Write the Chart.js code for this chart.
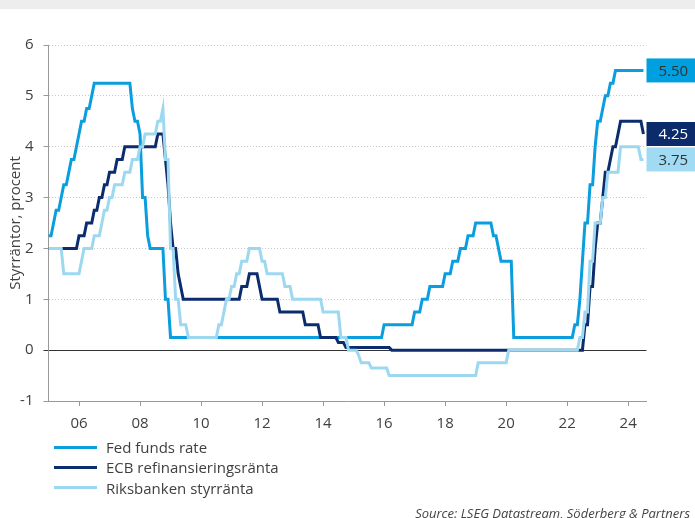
<!DOCTYPE html>
<html>
<head>
<meta charset="utf-8">
<script src="https://cdn.jsdelivr.net/npm/chart.js@4"></script>
<style>
  body { margin: 0; background: #fff; font-family: 'Open Sans', sans-serif; }
  #wrap { position: relative; width: 695px; height: 518px; overflow: hidden; }
  #topband { position: absolute; left: 0; top: 0; width: 695px; height: 9px; background: #eeedee; }
  #legend { position: absolute; left: 54px; top: 437px; font-size: 15px; color: #404040; }
  .row { display: flex; align-items: center; height: 20.3px; }
  .swatch { width: 43px; height: 3px; margin-right: 9px; }
  #source { position: absolute; right: 5px; top: 504px; font-size: 13px; font-style: italic; color: #444; white-space: nowrap; }
</style>
</head>
<body>
<div id="wrap">
  <canvas id="chart" width="695" height="518"></canvas>
  <div id="topband"></div>
  <div id="legend"></div>
  <div id="source">Source: LSEG Datastream, Söderberg &amp; Partners</div>
</div>
<script>
// Månadsslut, dec 2004 - jun 2024
const startYear = 2005;

const fedFunds = [
  2.25,
  2.25, 2.5, 2.75, 2.75, 3, 3.25, 3.25, 3.5, 3.75, 3.75, 4, 4.25,            // 2005
  4.5, 4.5, 4.75, 4.75, 5, 5.25, 5.25, 5.25, 5.25, 5.25, 5.25, 5.25,         // 2006
  5.25, 5.25, 5.25, 5.25, 5.25, 5.25, 5.25, 5.25, 4.75, 4.5, 4.5, 4.25,      // 2007
  3, 3, 2.25, 2, 2, 2, 2, 2, 2, 1, 1, 0.25,                                   // 2008
  0.25, 0.25, 0.25, 0.25, 0.25, 0.25, 0.25, 0.25, 0.25, 0.25, 0.25, 0.25,    // 2009
  0.25, 0.25, 0.25, 0.25, 0.25, 0.25, 0.25, 0.25, 0.25, 0.25, 0.25, 0.25,    // 2010
  0.25, 0.25, 0.25, 0.25, 0.25, 0.25, 0.25, 0.25, 0.25, 0.25, 0.25, 0.25,    // 2011
  0.25, 0.25, 0.25, 0.25, 0.25, 0.25, 0.25, 0.25, 0.25, 0.25, 0.25, 0.25,    // 2012
  0.25, 0.25, 0.25, 0.25, 0.25, 0.25, 0.25, 0.25, 0.25, 0.25, 0.25, 0.25,    // 2013
  0.25, 0.25, 0.25, 0.25, 0.25, 0.25, 0.25, 0.25, 0.25, 0.25, 0.25, 0.25,    // 2014
  0.25, 0.25, 0.25, 0.25, 0.25, 0.25, 0.25, 0.25, 0.25, 0.25, 0.25, 0.5,     // 2015
  0.5, 0.5, 0.5, 0.5, 0.5, 0.5, 0.5, 0.5, 0.5, 0.5, 0.5, 0.75,               // 2016
  0.75, 0.75, 1, 1, 1, 1.25, 1.25, 1.25, 1.25, 1.25, 1.25, 1.5,              // 2017
  1.5, 1.5, 1.75, 1.75, 1.75, 2, 2, 2, 2.25, 2.25, 2.25, 2.5,                // 2018
  2.5, 2.5, 2.5, 2.5, 2.5, 2.5, 2.25, 2.25, 2, 1.75, 1.75, 1.75,             // 2019
  1.75, 1.75, 0.25, 0.25, 0.25, 0.25, 0.25, 0.25, 0.25, 0.25, 0.25, 0.25,    // 2020
  0.25, 0.25, 0.25, 0.25, 0.25, 0.25, 0.25, 0.25, 0.25, 0.25, 0.25, 0.25,    // 2021
  0.25, 0.25, 0.5, 0.5, 1, 1.75, 2.5, 2.5, 3.25, 3.25, 4, 4.5,               // 2022
  4.5, 4.75, 5, 5, 5.25, 5.25, 5.5, 5.5, 5.5, 5.5, 5.5, 5.5,                 // 2023
  5.5, 5.5, 5.5, 5.5, 5.5, 5.5                                                // 2024
];

const ecbRefi = [
  2,
  2, 2, 2, 2, 2, 2, 2, 2, 2, 2, 2, 2.25,                                      // 2005
  2.25, 2.25, 2.5, 2.5, 2.5, 2.75, 2.75, 3, 3, 3.25, 3.25, 3.5,              // 2006
  3.5, 3.5, 3.75, 3.75, 3.75, 4, 4, 4, 4, 4, 4, 4,                            // 2007
  4, 4, 4, 4, 4, 4, 4.25, 4.25, 4.25, 3.75, 3.25, 2.5,                        // 2008
  2, 2, 1.5, 1.25, 1, 1, 1, 1, 1, 1, 1, 1,                                    // 2009
  1, 1, 1, 1, 1, 1, 1, 1, 1, 1, 1, 1,                                         // 2010
  1, 1, 1, 1.25, 1.25, 1.25, 1.5, 1.5, 1.5, 1.5, 1.25, 1,                     // 2011
  1, 1, 1, 1, 1, 1, 0.75, 0.75, 0.75, 0.75, 0.75, 0.75,                       // 2012
  0.75, 0.75, 0.75, 0.75, 0.5, 0.5, 0.5, 0.5, 0.5, 0.5, 0.25, 0.25,          // 2013
  0.25, 0.25, 0.25, 0.25, 0.25, 0.15, 0.15, 0.15, 0.05, 0.05, 0.05, 0.05,    // 2014
  0.05, 0.05, 0.05, 0.05, 0.05, 0.05, 0.05, 0.05, 0.05, 0.05, 0.05, 0.05,    // 2015
  0.05, 0.05, 0, 0, 0, 0, 0, 0, 0, 0, 0, 0,                                   // 2016
  0, 0, 0, 0, 0, 0, 0, 0, 0, 0, 0, 0,                                         // 2017
  0, 0, 0, 0, 0, 0, 0, 0, 0, 0, 0, 0,                                         // 2018
  0, 0, 0, 0, 0, 0, 0, 0, 0, 0, 0, 0,                                         // 2019
  0, 0, 0, 0, 0, 0, 0, 0, 0, 0, 0, 0,                                         // 2020
  0, 0, 0, 0, 0, 0, 0, 0, 0, 0, 0, 0,                                         // 2021
  0, 0, 0, 0, 0, 0, 0.5, 0.5, 1.25, 1.25, 2, 2.5,                             // 2022
  2.5, 3, 3.5, 3.5, 3.75, 4, 4, 4.25, 4.5, 4.5, 4.5, 4.5,                     // 2023
  4.5, 4.5, 4.5, 4.5, 4.5, 4.25                                               // 2024
];

const riksbanken = [
  2,
  2, 2, 2, 2, 2, 1.5, 1.5, 1.5, 1.5, 1.5, 1.5, 1.5,                           // 2005
  1.75, 2, 2, 2, 2, 2.25, 2.25, 2.25, 2.5, 2.75, 2.75, 3,                     // 2006
  3, 3.25, 3.25, 3.25, 3.25, 3.5, 3.5, 3.5, 3.75, 3.75, 3.75, 4,              // 2007
  4, 4.25, 4.25, 4.25, 4.25, 4.25, 4.5, 4.5, 4.75, 3.75, 3.75, 2,             // 2008
  2, 1, 1, 0.5, 0.5, 0.5, 0.25, 0.25, 0.25, 0.25, 0.25, 0.25,                 // 2009
  0.25, 0.25, 0.25, 0.25, 0.25, 0.25, 0.5, 0.5, 0.75, 1, 1, 1.25,             // 2010
  1.25, 1.5, 1.5, 1.75, 1.75, 1.75, 2, 2, 2, 2, 2, 1.75,                      // 2011
  1.75, 1.5, 1.5, 1.5, 1.5, 1.5, 1.5, 1.5, 1.25, 1.25, 1.25, 1,               // 2012
  1, 1, 1, 1, 1, 1, 1, 1, 1, 1, 1, 0.75,                                      // 2013
  0.75, 0.75, 0.75, 0.75, 0.75, 0.75, 0.25, 0.25, 0.25, 0, 0, 0,              // 2014
  0, -0.1, -0.25, -0.25, -0.25, -0.25, -0.35, -0.35, -0.35, -0.35, -0.35, -0.35, // 2015
  -0.35, -0.5, -0.5, -0.5, -0.5, -0.5, -0.5, -0.5, -0.5, -0.5, -0.5, -0.5,   // 2016
  -0.5, -0.5, -0.5, -0.5, -0.5, -0.5, -0.5, -0.5, -0.5, -0.5, -0.5, -0.5,    // 2017
  -0.5, -0.5, -0.5, -0.5, -0.5, -0.5, -0.5, -0.5, -0.5, -0.5, -0.5, -0.5,    // 2018
  -0.25, -0.25, -0.25, -0.25, -0.25, -0.25, -0.25, -0.25, -0.25, -0.25, -0.25, -0.25, // 2019
  0, 0, 0, 0, 0, 0, 0, 0, 0, 0, 0, 0,                                         // 2020
  0, 0, 0, 0, 0, 0, 0, 0, 0, 0, 0, 0,                                         // 2021
  0, 0, 0, 0, 0.25, 0.25, 0.75, 0.75, 1.75, 1.75, 2.5, 2.5,                   // 2022
  2.5, 3, 3, 3.5, 3.5, 3.5, 3.5, 3.5, 4, 4, 4, 4,                             // 2023
  4, 4, 4, 4, 3.75, 3.75                                                      // 2024
];

const tickYears = [2006, 2008, 2010, 2012, 2014, 2016, 2018, 2020, 2022, 2024];
const tickLabels = ["06", "08", "10", "12", "14", "16", "18", "20", "22", "24"];

const seriesNames = ["Fed funds rate", "ECB refinansieringsränta", "Riksbanken styrränta"];
const seriesColors = ["#0a9ede", "#0b2d6e", "#9dd8f1"];
const boxColors = ["#009fe0", "#0b2b6b", "#a0dbf3"];
const boxText = ["#333333", "#ffffff", "#333333"];

function toPoints(values) {
  return values.map((v, i) => ({ x: startYear + i / 12, y: v }));
}

// Etiketter med senaste värdet till höger
const endLabels = {
  id: "endLabels",
  afterDraw(chart) {
    const ctx = chart.ctx;
    const yScale = chart.scales.y;
    const left = chart.chartArea.right;
    ctx.save();
    ctx.font = "15px 'Open Sans', sans-serif";
    ctx.textBaseline = "middle";
    chart.data.datasets.forEach((ds, i) => {
      const last = ds.data[ds.data.length - 1].y;
      const y = yScale.getPixelForValue(last);
      ctx.fillStyle = boxColors[i];
      ctx.fillRect(left, y - 12, 60, 24);
      ctx.fillStyle = boxText[i];
      ctx.fillText(last.toFixed(2), left + 12, y + 1);
    });
    ctx.restore();
  }
};

Chart.defaults.font.family = "'Open Sans', sans-serif";
Chart.defaults.color = "#404040";

const ctx = document.getElementById("chart").getContext("2d");
new Chart(ctx, {
  type: "line",
  data: {
    datasets: [fedFunds, ecbRefi, riksbanken].map((vals, i) => ({
      label: seriesNames[i],
      data: toPoints(vals),
      borderColor: seriesColors[i],
      borderWidth: 3,
      pointRadius: 0,
      tension: 0,
      order: 3 - i
    }))
  },
  options: {
    responsive: false,
    animation: false,
    layout: { padding: { left: 0, top: 45, right: 48.5, bottom: 77 } },
    plugins: { legend: { display: false }, tooltip: { enabled: false } },
    scales: {
      x: {
        type: "linear",
        min: 2005,
        max: 2024.6,
        afterFit: s => { s.height = 40; },
        afterBuildTicks: s => { s.ticks = tickYears.map(v => ({ value: v })); },
        ticks: {
          autoSkip: false,
          maxRotation: 0,
          padding: 9,
          font: { size: 15 },
          callback: v => tickLabels[tickYears.indexOf(v)]
        },
        grid: { drawOnChartArea: false, drawTicks: true, tickLength: 5, tickColor: "#999" },
        border: { color: "#999", width: 1 }
      },
      y: {
        min: -1,
        max: 6,
        afterFit: s => { s.width = 48.5; },
        ticks: { stepSize: 1, padding: 10, font: { size: 15 } },
        title: {
          display: true,
          text: "Styrräntor, procent",
          font: { size: 15 },
          color: "#404040",
          padding: { top: 7, bottom: 0 }
        },
        grid: {
          color: c => (c.tick && c.tick.value === 0 ? "#333" : "#c8c8c8"),
          tickLength: 5,
          tickColor: c => (c.tick && c.tick.value === 0 ? "#333" : "#999"),
          tickBorderDash: []
        },
        border: {
          color: "#999",
          width: 1,
          dash: c => (c.tick && c.tick.value === 0 ? [] : [1, 2])
        }
      }
    }
  },
  plugins: [endLabels]
});

// Legend under diagrammet
const legend = document.getElementById("legend");
seriesNames.forEach((name, i) => {
  legend.innerHTML += `
    <div class="row">
      <span class="swatch" style="background:${seriesColors[i]}"></span>
      <span>${name}</span>
    </div>`;
});
</script>
</body>
</html>
